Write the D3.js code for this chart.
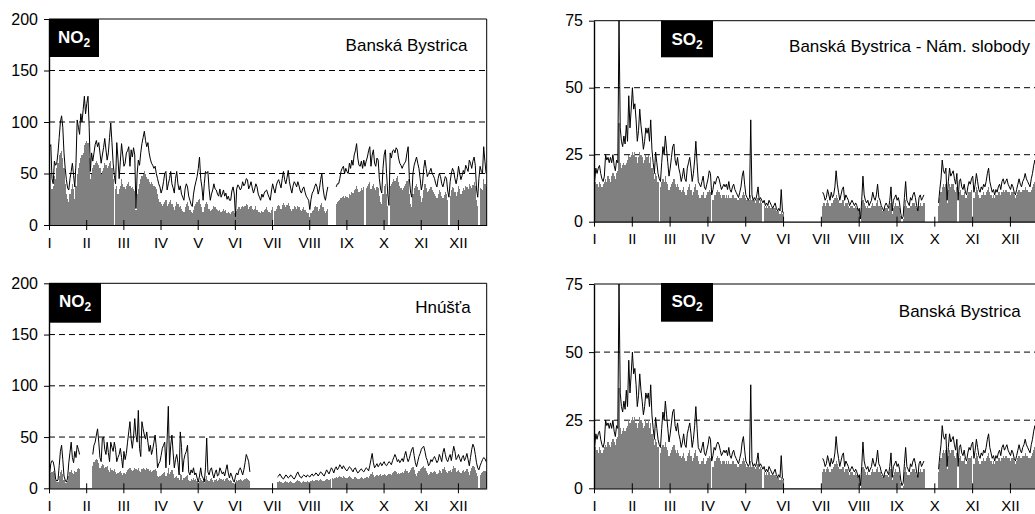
<!DOCTYPE html>
<html>
<head>
<meta charset="utf-8">
<script src="https://cdn.jsdelivr.net/npm/d3@7"></script>
<style>
  body { margin: 0; background: #fff; }
  svg { display: block; font-family: Arial, "Liberation Sans", sans-serif; }
</style>
</head>
<body>
<svg id="chart" width="1035" height="514"></svg>
<script>
// month labels, ticks every 31 days like the original axis
const months = ["I", "II", "III", "IV", "V", "VI", "VII", "VIII", "IX", "X", "XI", "XII"];
const monthStarts = [0, 31, 62, 93, 124, 155, 186, 217, 248, 279, 310, 341];
const no2Ticks = [0, 50, 100, 150, 200];
const so2Ticks = [0, 25, 50, 75];

// NO2 Banská Bystrica - daily max (line) and daily mean (bars)
const no2BbMax = [
  76,78,45,40,62,58,60,70,85,100,106,95,70,55,44,36,34,45,52,60,
  48,37,60,102,95,88,108,100,112,125,108,118,125,95,52,70,62,70,78,82,
  76,80,70,60,68,75,84,73,63,70,85,99,80,60,48,40,80,65,45,62,
  79,68,57,60,70,72,76,57,73,66,75,68,16,50,63,58,70,79,85,91,
  82,76,80,70,64,60,58,55,57,50,45,40,37,31,35,42,50,52,34,40,
  45,52,40,36,31,45,52,40,34,38,30,27,24,35,40,37,28,24,20,18,
  30,37,42,47,55,66,45,37,24,40,52,50,52,35,24,30,34,40,35,34,
  30,28,35,27,30,34,28,31,25,28,24,24,33,37,30,8,35,39,37,34,
  36,42,38,40,45,44,35,38,42,36,31,35,40,37,30,27,24,30,27,31,
  33,34,30,27,24,33,40,35,31,38,42,44,40,36,45,52,44,40,46,53,
  42,36,31,38,42,40,37,42,38,33,31,35,37,32,28,26,24,15,25,31,
  33,37,40,37,30,35,44,50,36,28,24,31,37,null,null,null,null,null,null,37,
  40,40,45,52,55,57,50,55,52,50,60,55,63,58,68,72,79,65,58,57,
  62,55,63,57,62,66,72,76,57,68,73,60,57,65,63,45,35,31,55,68,
  73,50,30,19,70,65,72,73,70,75,73,65,60,58,55,58,60,62,70,76,
  45,32,27,50,58,62,66,60,55,45,34,40,55,63,55,47,50,52,55,50,
  48,45,40,37,45,50,47,40,37,42,47,45,33,27,42,50,55,52,45,40,
  46,57,50,44,48,53,50,58,55,52,63,60,55,62,66,58,35,27,45,57,
  52,50,76,62,50
];
const no2BbMean = [
  45,50,35,38,48,45,55,60,68,70,72,65,55,40,30,25,22,30,35,40,
  35,25,38,50,55,60,65,68,70,78,80,82,80,65,45,50,55,58,60,62,
  60,58,55,50,52,55,60,58,55,57,60,62,55,45,0,35,38,30,35,38,
  45,40,37,35,38,40,42,38,36,37,35,33,15,30,35,40,45,48,50,52,
  50,47,45,42,40,42,40,38,37,35,30,25,22,20,18,20,22,24,18,20,
  22,24,20,17,15,18,22,20,17,18,16,14,13,17,20,22,18,15,13,12,
  15,18,20,22,24,25,20,17,13,17,20,22,20,16,14,15,16,18,17,16,
  15,14,15,13,14,16,14,15,12,13,12,11,13,14,12,8,14,16,17,16,
  17,18,17,18,20,19,16,17,18,16,15,16,18,15,13,13,12,14,13,15,
  16,17,15,13,12,15,17,0,14,16,18,19,18,16,19,21,19,17,19,21,
  18,16,14,16,18,17,16,18,17,15,14,16,17,15,13,12,12,8,12,14,
  15,17,18,17,14,16,19,21,17,14,12,14,16,null,null,null,null,null,null,20,
  22,23,24,26,27,28,26,28,27,26,30,29,32,31,34,35,38,35,32,33,
  36,34,37,0,36,38,40,42,35,38,40,36,34,37,36,28,22,20,30,38,
  40,30,18,0,38,40,42,45,43,46,48,42,38,36,34,36,38,40,43,45,
  30,20,17,30,36,38,40,37,34,28,22,26,34,40,36,32,33,35,37,34,
  32,30,28,26,30,34,32,28,26,29,32,30,24,0,28,34,37,36,32,28,
  32,38,35,30,33,36,34,38,37,35,40,38,36,39,42,38,24,18,0,36,
  35,34,45,40,37
];

// NO2 Hnúšťa
const no2HnMax = [
  14,24,27,26,20,9,7,8,22,36,42,28,12,8,6,10,25,35,45,30,
  25,36,30,42,38,33,null,null,null,null,null,null,null,null,null,null,33,42,45,52,
  58,45,30,26,49,50,38,33,45,35,26,45,40,36,45,38,26,30,33,39,
  30,20,36,28,34,45,55,65,48,39,50,68,52,45,76,39,31,65,58,52,
  48,55,45,36,42,33,38,45,52,40,20,24,26,32,39,42,45,20,47,80,
  23,42,52,35,20,28,33,25,13,55,40,16,28,33,36,42,16,13,18,15,
  20,13,15,10,6,12,20,12,10,6,20,49,16,13,18,20,14,10,15,18,
  12,13,20,17,14,16,12,18,23,15,10,15,12,8,6,12,15,13,18,20,
  17,13,18,25,33,30,26,16,null,null,null,null,null,null,null,null,null,null,null,null,
  null,null,null,null,null,null,null,null,null,null,11,12,14,12,10,9,11,13,12,10,
  11,13,12,10,9,11,14,16,13,11,10,12,13,12,11,13,12,11,13,14,
  12,13,15,14,12,14,16,15,13,12,15,18,16,14,17,20,18,15,19,21,
  18,20,23,21,19,22,20,18,17,19,21,20,18,16,19,20,17,15,16,18,
  19,17,16,18,20,19,17,22,28,34,25,20,22,24,21,23,25,22,24,26,
  23,22,24,26,25,23,27,30,33,30,26,28,25,27,29,26,32,36,30,26,
  29,34,38,40,32,25,21,26,31,34,38,40,41,36,30,27,22,24,28,26,
  29,31,28,25,27,33,30,26,35,39,33,28,26,30,33,27,34,41,36,28,
  30,33,29,26,30,32,27,30,34,28,22,30,38,43,40,33,25,20,18,22,
  25,28,30,29,26
];
const no2HnMean = [
  13,15,16,17,15,8,6,6,12,16,18,14,8,5,5,7,12,16,18,15,
  14,17,16,19,20,19,null,null,null,null,null,null,null,null,null,null,22,26,28,29,
  28,25,20,22,24,23,20,21,22,18,16,20,18,17,19,16,14,15,16,17,
  15,13,15,14,16,18,19,20,18,17,18,20,19,18,20,17,16,19,20,19,
  18,20,19,17,18,16,17,18,19,17,12,11,12,13,14,15,16,12,15,20,
  14,16,18,14,10,11,12,10,8,14,13,8,10,11,12,13,8,7,9,8,
  10,8,9,7,5,7,10,8,7,5,9,12,8,7,9,10,8,6,8,9,
  7,8,10,9,8,9,7,9,10,8,7,8,7,5,4,6,8,7,8,9,
  8,7,8,9,10,9,8,7,null,null,null,null,null,null,null,null,null,null,null,null,
  null,null,null,null,null,null,null,null,null,null,6,6,7,6,5,5,6,7,6,5,
  6,7,6,5,5,6,7,8,7,6,5,6,7,6,6,7,6,6,7,8,
  7,7,8,8,7,8,9,8,7,7,8,9,9,8,9,0,10,9,10,11,
  10,11,12,11,10,12,11,10,10,11,12,11,10,9,11,11,10,9,9,10,
  11,10,9,10,11,11,10,12,14,16,13,11,12,13,12,13,14,12,13,14,
  13,12,13,14,14,13,15,16,17,16,14,15,14,15,16,15,17,19,17,15,
  16,18,20,21,18,14,12,15,17,19,20,21,22,20,17,15,13,14,16,15,
  16,17,16,14,15,18,17,15,19,21,18,16,15,17,18,16,19,22,20,16,
  17,18,16,15,17,18,16,17,19,16,13,17,20,22,21,18,15,12,0,13,
  15,16,17,17,16
];

// SO2 Banská Bystrica (both right panels show the same record)
const so2Max = [
  15,20,18,20,21,18,16,15,17,25,23,24,22,24,22,25,21,19,23,22,
  75,35,30,28,32,29,36,30,47,35,42,50,42,44,38,30,34,42,36,32,
  27,30,35,33,35,30,38,27,22,18,26,22,18,16,15,22,28,25,32,27,
  22,17,20,24,28,29,23,21,24,20,18,15,17,20,16,15,20,22,24,20,
  15,18,23,30,22,15,14,13,15,17,13,12,14,16,19,18,10,12,15,14,
  16,17,16,14,12,13,14,13,14,12,15,12,11,13,14,12,11,10,9,11,
  13,17,19,14,10,9,8,9,38,10,8,9,8,10,13,8,9,8,7,8,
  6,7,6,8,7,6,5,6,7,5,4,5,4,12,4,3,null,null,null,null,
  null,null,null,null,null,null,null,null,null,null,null,null,null,null,null,null,null,null,null,null,
  null,null,null,null,null,null,null,11,10,8,9,12,10,8,11,9,10,13,19,14,
  11,8,10,12,13,8,10,9,8,6,7,8,7,6,7,6,4,5,1,8,
  17,10,8,7,8,6,7,8,11,9,8,10,14,9,8,6,5,4,6,7,
  6,5,8,13,4,8,9,10,8,9,7,3,1,2,9,15,8,7,6,9,
  8,10,11,9,6,4,9,10,8,9,10,null,null,null,null,null,null,null,null,null,
  null,null,7,12,16,23,19,18,20,8,15,20,17,18,19,16,14,18,8,15,
  16,13,12,14,11,10,13,15,14,16,17,11,14,18,15,12,11,13,12,14,
  13,15,18,20,15,13,11,12,10,12,11,13,14,12,15,16,14,15,16,14,
  13,12,14,13,11,10,12,14,16,14,13,15,16,18,16,15,14,13,16,18,
  21,23,20,18,17
];
const so2Mean = [
  14,15,14,13,15,14,13,14,15,16,15,17,16,15,17,18,17,16,18,19,
  37,22,20,21,22,21,22,23,25,24,25,26,25,26,24,22,24,26,25,24,
  22,23,25,24,25,22,24,20,18,16,18,17,15,0,13,15,16,15,17,15,
  14,12,13,14,15,16,14,13,14,13,12,11,12,13,11,10,12,13,14,12,
  10,11,13,14,12,10,9,9,10,11,9,9,10,11,12,11,0,8,10,10,
  11,12,11,10,9,10,10,9,10,9,10,9,9,10,10,9,9,8,8,9,
  9,10,11,10,9,8,8,8,10,8,8,8,7,8,9,7,8,7,0,6,
  5,6,5,6,5,5,5,5,5,4,4,4,3,4,3,3,null,null,null,null,
  null,null,null,null,null,null,null,null,null,null,null,null,null,null,null,null,null,null,null,null,
  null,null,null,null,null,null,null,6,7,6,7,8,7,6,7,7,8,9,10,9,
  8,7,7,8,8,6,7,7,6,5,6,6,5,5,6,5,4,4,0,5,
  8,7,6,5,6,5,5,6,7,6,6,7,8,6,6,5,4,4,5,5,
  5,4,6,7,3,5,6,7,6,6,5,2,0,1,6,8,6,5,5,6,
  6,7,7,6,5,4,6,7,6,6,7,null,null,null,null,null,null,null,null,null,
  null,null,6,9,11,13,14,13,14,7,12,14,13,14,14,12,11,13,0,11,
  12,10,10,11,9,9,10,11,11,12,0,9,11,13,12,10,9,10,10,11,
  10,11,12,13,11,10,9,10,9,10,10,11,11,10,11,12,11,12,12,11,
  11,10,11,11,10,9,10,11,12,11,11,12,12,13,12,12,11,11,12,13,
  14,15,14,13,13
];

const days = 365;
const svg = d3.select("#chart");

const panels = [
  { left: 49, width: 437.7, top: 19, bottom: 225, yMax: 200, ticks: no2Ticks,
    maxs: no2BbMax, means: no2BbMean, gas: "NO", box: [49, 19, 50, 38],
    station: "Banská Bystrica", sx: 467.5, sy: 51 },
  { left: 594, width: 445.2, top: 20.7, bottom: 221.7, yMax: 75, ticks: so2Ticks,
    maxs: so2Max, means: so2Mean, gas: "SO", box: [661, 20.7, 52, 36.6],
    station: "Banská Bystrica - Nám. slobody", sx: 1030, sy: 52 },
  { left: 49, width: 437.7, top: 283.3, bottom: 488.3, yMax: 200, ticks: no2Ticks,
    maxs: no2HnMax, means: no2HnMean, gas: "NO", box: [49, 283, 52, 39.7],
    station: "Hnúšťa", sx: 470.7, sy: 313 },
  { left: 594, width: 445.2, top: 284, bottom: 488.3, yMax: 75, ticks: so2Ticks,
    maxs: so2Max, means: so2Mean, gas: "SO", box: [661, 283, 52, 38.7],
    station: "Banská Bystrica", sx: 1020.7, sy: 317 }
];

function drawPanel(p) {
  const g = svg.append("g");
  const x = d3.scaleLinear().domain([0, days]).range([p.left, p.left + p.width]);
  const y = d3.scaleLinear().domain([0, p.yMax]).range([p.bottom, p.top]);
  const bw = p.width / days;
  const right = p.left + p.width;

  // dashed grid
  g.selectAll(".grid")
    .data(p.ticks.filter(t => t > 0 && t < p.yMax))
    .enter().append("line")
      .attr("x1", p.left).attr("x2", right)
      .attr("y1", d => y(d)).attr("y2", d => y(d))
      .attr("stroke", "#000").attr("stroke-width", 1)
      .attr("stroke-dasharray", "6,4");

  // daily means as bars
  const bars = p.means.map((v, i) => ({ i: i, v: v })).filter(d => d.v != null && d.v > 0);
  g.append("g").selectAll("rect").data(bars)
    .enter().append("rect")
      .attr("x", d => x(d.i))
      .attr("width", bw)
      .attr("y", d => y(d.v))
      .attr("height", d => y(0) - y(d.v))
      .attr("fill", "#808080")
      .attr("shape-rendering", "crispEdges");

  // daily max as line
  const line = d3.line()
    .defined(d => d != null)
    .x((d, i) => x(i + 0.5))
    .y(d => y(d));
  g.append("path").datum(p.maxs)
    .attr("d", line)
    .attr("fill", "none")
    .attr("stroke", "#000")
    .attr("stroke-width", 1)
    .attr("stroke-linejoin", "round");

  // frame top + right
  g.append("line").attr("x1", p.left).attr("x2", right)
    .attr("y1", y(p.yMax)).attr("y2", y(p.yMax)).attr("stroke", "#000");
  g.append("line").attr("x1", right).attr("x2", right)
    .attr("y1", y(p.yMax)).attr("y2", y(0)).attr("stroke", "#000");

  // axes
  const yAxis = d3.axisLeft(y).tickValues(p.ticks).tickSize(5).tickSizeOuter(0).tickPadding(6);
  g.append("g").attr("transform", `translate(${p.left},0)`).call(yAxis)
    .call(a => a.select(".domain").attr("stroke-width", 1.4))
    .call(a => a.selectAll("text").attr("font-size", 16).attr("fill", "#000")
      .attr("font-family", 'Arial, "Liberation Sans", sans-serif'));

  const xAxis = d3.axisBottom(x).tickValues(monthStarts)
    .tickFormat((d, i) => months[i]).tickSize(5).tickSizeOuter(0).tickPadding(7);
  g.append("g").attr("transform", `translate(0,${p.bottom})`).call(xAxis)
    .call(a => a.selectAll(".tick line").attr("y1", -5))
    .call(a => a.select(".domain").attr("stroke-width", 1.2))
    .call(a => a.selectAll("text").attr("font-size", 15).attr("fill", "#000")
      .attr("font-family", 'Arial, "Liberation Sans", sans-serif'));

  // pollutant box
  g.append("rect")
    .attr("x", p.box[0]).attr("y", p.box[1])
    .attr("width", p.box[2]).attr("height", p.box[3])
    .attr("fill", "#000");
  const t = g.append("text")
    .attr("x", p.box[0] + p.box[2] / 2)
    .attr("y", p.box[1] + 24)
    .attr("text-anchor", "middle")
    .attr("fill", "#fff")
    .attr("font-weight", "bold")
    .attr("font-size", 17);
  t.append("tspan").text(p.gas);
  t.append("tspan").attr("font-size", 12).attr("dy", 4).text("2");

  // station name
  g.append("text")
    .attr("x", p.sx).attr("y", p.sy)
    .attr("text-anchor", "end")
    .attr("font-size", 17)
    .attr("fill", "#000")
    .text(p.station);
}

panels.forEach(drawPanel);
</script>
</body>
</html>
